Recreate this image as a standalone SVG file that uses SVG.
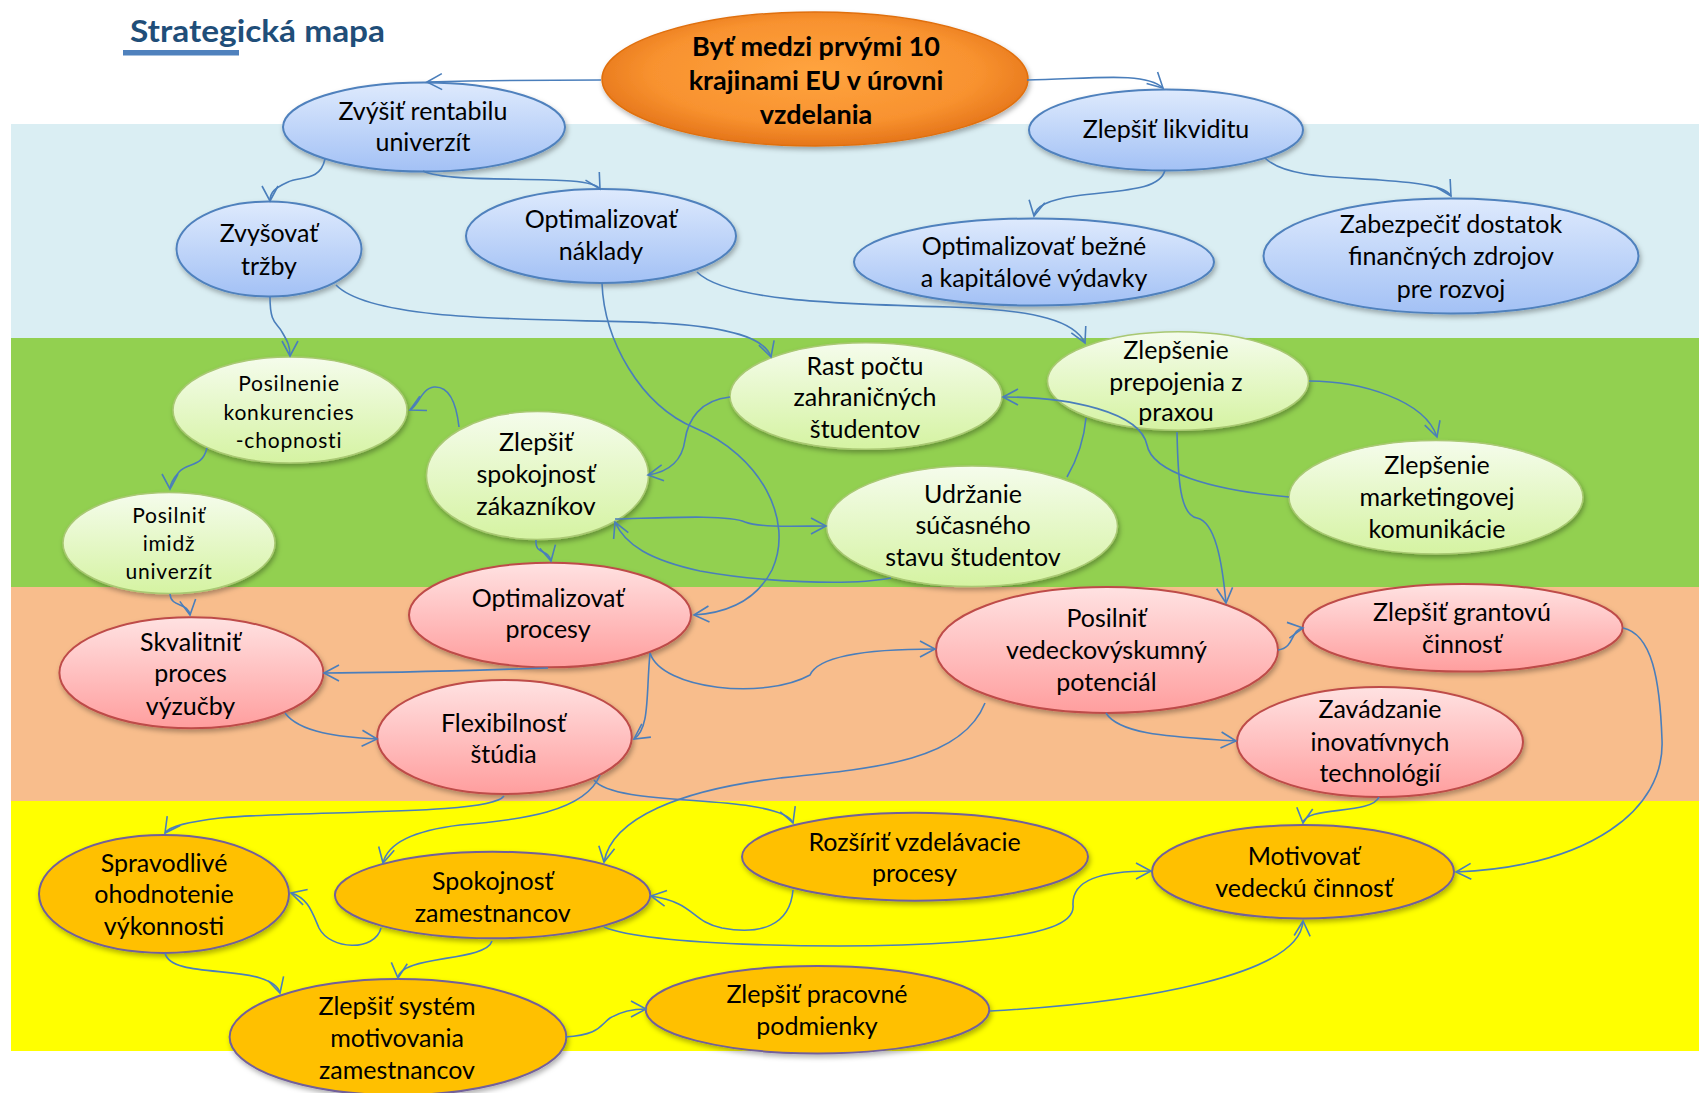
<svg xmlns="http://www.w3.org/2000/svg" width="1699" height="1093" viewBox="0 0 1699 1093">
<defs>
<style>
.t{font-family:Lato,"Liberation Sans","DejaVu Sans",sans-serif;font-size:25px;fill:#000;text-anchor:middle}
.tb{font-family:Lato,"Liberation Sans","DejaVu Sans",sans-serif;font-size:27px;font-weight:bold;fill:#000;text-anchor:middle}
.ts{font-family:Lato,"Liberation Sans","DejaVu Sans",sans-serif;font-size:21px;letter-spacing:0.8px;fill:#000;text-anchor:middle}
.blue{fill:url(#gBlue);stroke:#4F81BD;stroke-width:2;filter:url(#sh)}
.green{fill:url(#gGreen);stroke:#A9C873;stroke-width:1.5;filter:url(#sh)}
.pink{fill:url(#gPink);stroke:#BE4B48;stroke-width:2;filter:url(#sh)}
.orange{fill:#FFC000;stroke:#72609A;stroke-width:2;filter:url(#sh)}
.goal{fill:url(#gGoal);stroke:#E0700F;stroke-width:1.5;filter:url(#sh)}
.c{fill:none;stroke:#4A7EBB;stroke-width:1.6;marker-end:url(#arr)}
.cn{fill:none;stroke:#4A7EBB;stroke-width:1.6}
</style>
<linearGradient id="gBlue" x1="0" y1="0" x2="0" y2="1"><stop offset="0" stop-color="#DEEAFD"/><stop offset="1" stop-color="#A3C1F5"/></linearGradient>
<linearGradient id="gGreen" x1="0" y1="0" x2="0" y2="1"><stop offset="0" stop-color="#F5FCEC"/><stop offset="1" stop-color="#D5F3A2"/></linearGradient>
<linearGradient id="gPink" x1="0" y1="0" x2="0" y2="1"><stop offset="0" stop-color="#FFE2E2"/><stop offset="1" stop-color="#FF9E9E"/></linearGradient>
<radialGradient id="gGoal" cx="0.5" cy="0.45" r="0.55"><stop offset="0" stop-color="#FFA43F"/><stop offset="0.7" stop-color="#F8922F"/><stop offset="1" stop-color="#E5751A"/></radialGradient>
<filter id="sh" x="-10%" y="-10%" width="125%" height="135%"><feDropShadow dx="1.5" dy="3" stdDeviation="2.5" flood-color="#000" flood-opacity="0.3"/></filter>
<marker id="arr" markerUnits="userSpaceOnUse" markerWidth="24" markerHeight="24" viewBox="-18 -12 24 24" refX="0" refY="0" orient="auto" overflow="visible"><path d="M-15,-8 L0,0 L-15,8" fill="none" stroke="#4A7EBB" stroke-width="1.6"/></marker>
</defs>
<rect width="1699" height="1093" fill="#FFFFFF"/>
<g id="bands">
<rect x="11" y="124" width="1688" height="214" fill="#DAEEF3"/>
<rect x="11" y="338" width="1688" height="249" fill="#92D050"/>
<rect x="11" y="587" width="1688" height="214" fill="#F8BD8C"/>
<rect x="11" y="801" width="1688" height="250" fill="#FFFF00"/>
</g>
<g id="title">
<text x="130" y="41.5" font-family="Lato,'Liberation Sans',sans-serif" font-size="31" font-weight="bold" fill="#1F4E79" textLength="255" lengthAdjust="spacingAndGlyphs">Strategická mapa</text>
<rect x="123" y="50" width="116" height="5.5" fill="#4F81BD"/>
</g>
<g id="nodes">
<g id="n-goal"><ellipse class="goal" cx="815" cy="79" rx="213" ry="67"/><text class="tb" x="816" y="55.5">Byť medzi prvými 10</text><text class="tb" x="816" y="90">krajinami EU v úrovni</text><text class="tb" x="816" y="124">vzdelania</text></g>
<g id="n-rentabilita"><ellipse class="blue" cx="424" cy="127" rx="141" ry="44.5"/><text class="t" x="423" y="119.5">Zvýšiť rentabilu</text><text class="t" x="423" y="151">univerzít</text></g>
<g id="n-trzby"><ellipse class="blue" cx="269" cy="249" rx="92.5" ry="47.5"/><text class="t" x="269" y="241.5">Zvyšovať</text><text class="t" x="269" y="274.5">tržby</text></g>
<g id="n-naklady"><ellipse class="blue" cx="601" cy="236" rx="135" ry="47"/><text class="t" x="601" y="228">Optimalizovať</text><text class="t" x="601" y="260">náklady</text></g>
<g id="n-likvidita"><ellipse class="blue" cx="1166" cy="130" rx="137" ry="40.5"/><text class="t" x="1166" y="138">Zlepšiť likviditu</text></g>
<g id="n-vydavky"><ellipse class="blue" cx="1034" cy="262" rx="180" ry="43.5"/><text class="t" x="1034" y="254.5">Optimalizovať bežné</text><text class="t" x="1034" y="286.5">a kapitálové výdavky</text></g>
<g id="n-zdroje"><ellipse class="blue" cx="1451" cy="256" rx="187.5" ry="57.5"/><text class="t" x="1451" y="233">Zabezpečiť dostatok</text><text class="t" x="1451" y="265">finančných zdrojov</text><text class="t" x="1451" y="298">pre rozvoj</text></g>
<g id="n-konkurencia"><ellipse class="green" cx="290" cy="410" rx="117" ry="53"/><text class="ts" x="289" y="391">Posilnenie</text><text class="ts" x="289" y="419.5">konkurencies</text><text class="ts" x="289" y="447.5">-chopnosti</text></g>
<g id="n-imidz"><ellipse class="green" cx="169" cy="543" rx="106" ry="50.5"/><text class="ts" x="169" y="522.5">Posilniť</text><text class="ts" x="169" y="551">imidž</text><text class="ts" x="169" y="579">univerzít</text></g>
<g id="n-zakaznici"><ellipse class="green" cx="537.5" cy="475.5" rx="111" ry="64"/><text class="t" x="536" y="451">Zlepšiť</text><text class="t" x="536" y="483">spokojnosť</text><text class="t" x="536" y="515">zákazníkov</text></g>
<g id="n-zahranicni"><ellipse class="green" cx="866" cy="396" rx="136" ry="53.3"/><text class="t" x="865" y="374.7">Rast počtu</text><text class="t" x="865" y="406.3">zahraničných</text><text class="t" x="865" y="438">študentov</text></g>
<g id="n-prax"><ellipse class="green" cx="1178" cy="381" rx="130.5" ry="49.2"/><text class="t" x="1176" y="358.5">Zlepšenie</text><text class="t" x="1176" y="390.5">prepojenia z</text><text class="t" x="1176" y="421">praxou</text></g>
<g id="n-marketing"><ellipse class="green" cx="1436" cy="497.3" rx="147" ry="56.7"/><text class="t" x="1437" y="474">Zlepšenie</text><text class="t" x="1437" y="506">marketingovej</text><text class="t" x="1437" y="537.5">komunikácie</text></g>
<g id="n-udrzanie"><ellipse class="green" cx="972" cy="526.3" rx="145.5" ry="60.3"/><text class="t" x="973" y="502.7">Udržanie</text><text class="t" x="973" y="534">súčasného</text><text class="t" x="973" y="566">stavu študentov</text></g>
<g id="n-procesy"><ellipse class="pink" cx="550" cy="615" rx="141" ry="52.3"/><text class="t" x="548" y="606.7">Optimalizovať</text><text class="t" x="548" y="638">procesy</text></g>
<g id="n-vyucba"><ellipse class="pink" cx="191.4" cy="672.8" rx="132" ry="55.5"/><text class="t" x="190.5" y="650.7">Skvalitniť</text><text class="t" x="190.5" y="681.7">proces</text><text class="t" x="190.5" y="715">výzučby</text></g>
<g id="n-flexibilita"><ellipse class="pink" cx="504.5" cy="737" rx="127.3" ry="57"/><text class="t" x="503.5" y="731.7">Flexibilnosť</text><text class="t" x="503.5" y="763.3">štúdia</text></g>
<g id="n-veda"><ellipse class="pink" cx="1107" cy="650" rx="171" ry="63"/><text class="t" x="1106.5" y="626.7">Posilniť</text><text class="t" x="1106.5" y="658.5">vedeckovýskumný</text><text class="t" x="1106.5" y="691">potenciál</text></g>
<g id="n-granty"><ellipse class="pink" cx="1462.6" cy="627.8" rx="160" ry="43.8"/><text class="t" x="1462" y="620.7">Zlepšiť grantovú</text><text class="t" x="1462" y="652.7">činnosť</text></g>
<g id="n-inovacie"><ellipse class="pink" cx="1380" cy="742" rx="143" ry="55"/><text class="t" x="1380" y="718.3">Zavádzanie</text><text class="t" x="1380" y="750.7">inovatívnych</text><text class="t" x="1380" y="781.7">technológií</text></g>
<g id="n-hodnotenie"><ellipse class="orange" cx="164" cy="894" rx="125" ry="59"/><text class="t" x="164" y="871.7">Spravodlivé</text><text class="t" x="164" y="903.3">ohodnotenie</text><text class="t" x="164" y="935">výkonnosti</text></g>
<g id="n-spokojnost-zam"><ellipse class="orange" cx="492.6" cy="895" rx="157.7" ry="43.3"/><text class="t" x="492.7" y="890">Spokojnosť</text><text class="t" x="492.7" y="921.7">zamestnancov</text></g>
<g id="n-vzdelavanie"><ellipse class="orange" cx="915" cy="856.7" rx="173" ry="44"/><text class="t" x="914.5" y="850.7">Rozšíriť vzdelávacie</text><text class="t" x="914.5" y="881.7">procesy</text></g>
<g id="n-motivacia-veda"><ellipse class="orange" cx="1303" cy="871.7" rx="151" ry="46.7"/><text class="t" x="1304" y="865">Motivovať</text><text class="t" x="1304" y="896.7">vedeckú činnosť</text></g>
<g id="n-motivacia-system"><ellipse class="orange" cx="398" cy="1037" rx="168.4" ry="58"/><text class="t" x="397" y="1015">Zlepšiť systém</text><text class="t" x="397" y="1047.3">motivovania</text><text class="t" x="397" y="1079.3">zamestnancov</text></g>
<g id="n-podmienky"><ellipse class="orange" cx="817.5" cy="1009.7" rx="171.8" ry="43.7"/><text class="t" x="817" y="1003.3">Zlepšiť pracovné</text><text class="t" x="817" y="1035">podmienky</text></g>
</g>
<g id="connectors">
<path class="c" d="M601,80 C540,80 470,81 427,82"/>
<path class="c" d="M1027,80 C1090,79 1145,71 1163,88"/>
<path class="c" d="M325,159 C320,182 300,176 288,182 C275,188 270,192 270,201"/>
<path class="c" d="M423,171 C455,186 590,172 600,189"/>
<path class="c" d="M270,297 C270,325 277,322 282,332 C288,342 290,346 290,356"/>
<path class="c" d="M336,285 C375,325 560,318 660,323 C730,327 765,338 771,357"/>
<path class="c" d="M602,283 C604,340 640,405 695,428 C760,455 795,520 772,570 C755,603 725,613 694,615"/>
<path class="c" d="M697,272 C725,300 830,304 950,307 C1040,310 1075,322 1085,343"/>
<path class="c" d="M1165,170 C1160,192 1115,190 1075,196 C1048,200 1036,206 1034,216"/>
<path class="c" d="M1265,158 C1285,178 1340,177 1380,180 C1420,183 1445,186 1451,196"/>
<path class="c" d="M207,448 C202,468 188,462 179,472 C172,480 170,484 170,489"/>
<path class="c" d="M459,427 C456,400 448,386 434,387 C422,388 418,406 410,410"/>
<path class="c" d="M730,397 C700,400 688,420 685,440 C682,462 668,472 648,475"/>
<path class="c" d="M615,519 C660,518 728,514 745,522 C760,528 800,526 826,526"/>
<path class="c" d="M891,578 C850,586 760,582 700,571 C650,560 625,545 615,522"/>
<path class="cn" d="M1067,477 C1078,458 1084,440 1086,418"/>
<path class="c" d="M1289,497 C1210,490 1152,472 1147,445 C1140,412 1070,397 1003,397"/>
<path class="c" d="M1309,381 C1360,381 1425,400 1437,437"/>
<path class="c" d="M1177,432 C1178,480 1180,515 1197,518 C1215,522 1222,560 1226,603"/>
<path class="c" d="M536,540 C535,556 548,548 551,561"/>
<path class="c" d="M170,594 C171,608 188,602 190,615"/>
<path class="c" d="M548,668 C480,670 400,673 324,673"/>
<path class="c" d="M650,653 C662,690 765,700 810,675 C818,657 860,649 935,649"/>
<path class="c" d="M650,653 C646,695 650,728 634,739"/>
<path class="c" d="M285,713 C300,733 340,737 377,739"/>
<path class="c" d="M1278,650 C1295,648 1290,630 1303,628"/>
<path class="c" d="M1623,628 C1652,634 1660,680 1662,740 C1665,810 1590,866 1456,872"/>
<path class="c" d="M1106,713 C1120,736 1180,737 1236,741"/>
<path class="c" d="M985,703 C962,760 880,768 780,778 C680,790 612,818 604,862"/>
<path class="c" d="M594,780 C610,801 700,798 750,806 C776,810 790,815 793,823"/>
<path class="c" d="M504,796 C490,816 300,810 220,818 C188,822 170,826 165,833"/>
<path class="c" d="M600,775 C585,812 520,820 460,825 C418,830 388,842 383,863"/>
<path class="c" d="M793,890 C790,926 760,935 722,928 C690,921 696,903 651,896"/>
<path class="c" d="M381,928 C375,952 330,950 319,928 C312,912 308,898 291,893"/>
<path class="c" d="M604,927 C650,946 850,950 960,942 C1050,935 1075,922 1073,905 C1072,880 1100,871 1151,871"/>
<path class="c" d="M492,941 C486,962 400,955 398,978"/>
<path class="c" d="M165,953 C170,975 230,968 260,978 C272,982 278,986 280,993"/>
<path class="c" d="M565,1037 C600,1035 600,1025 610,1018 C620,1012 632,1009 646,1009"/>
<path class="c" d="M990,1011 C1140,1003 1300,975 1303,921"/>
<path class="c" d="M1379,797 C1372,815 1305,806 1303,823"/>
</g>
</svg>
